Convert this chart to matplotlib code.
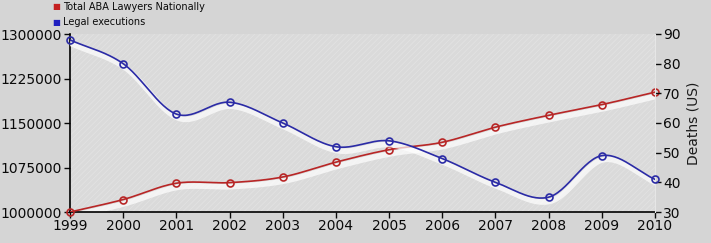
import numpy as np
import matplotlib
matplotlib.use("Agg")
import matplotlib.pyplot as plt
import matplotlib.transforms as mtransforms
from matplotlib.patches import Rectangle

years = [1999, 2000, 2001, 2002, 2003, 2004, 2005, 2006, 2007, 2008, 2009, 2010]
lawyers = [1000000, 1021000, 1048500, 1049500, 1059000, 1084000,
           1105000, 1117500, 1143000, 1163000, 1181000, 1202000]
executions = [88, 80, 63, 67, 60, 52, 54, 48, 40, 35, 49, 41]

left_ticks = [1000000, 1075000, 1150000, 1225000, 1300000]
right_ticks = [30, 40, 50, 60, 70, 80, 90]

red = "#b82626"
blue = "#2b2ba6"


def smooth(x, y, n=30):
    # catmull-rom through the points, just for drawing the curve
    x = np.asarray(x, float)
    y = np.asarray(y, float)
    px = np.concatenate([[2 * x[0] - x[1]], x, [2 * x[-1] - x[-2]]])
    py = np.concatenate([[2 * y[0] - y[1]], y, [2 * y[-1] - y[-2]]])
    xs, ys = [], []
    t = np.linspace(0, 1, n)
    for i in range(1, len(px) - 2):
        for p, out in ((px, xs), (py, ys)):
            p0, p1, p2, p3 = p[i - 1], p[i], p[i + 1], p[i + 2]
            out.append(0.5 * (2 * p1 + (-p0 + p2) * t
                              + (2 * p0 - 5 * p1 + 4 * p2 - p3) * t ** 2
                              + (-p0 + 3 * p1 - 3 * p2 + p3) * t ** 3))
    return np.concatenate(xs), np.concatenate(ys)


plt.rcParams["font.family"] = "DejaVu Sans"
plt.rcParams["hatch.linewidth"] = 0.6

fig = plt.figure(figsize=(7.11, 2.43), dpi=100, facecolor="#d5d5d5")
ax = fig.add_axes([70 / 711, 1 - 212 / 243, 585 / 711, 178 / 243])
ax.set_facecolor("#dadada")
ax.add_patch(Rectangle((0, 0), 1, 1, transform=ax.transAxes, fill=False,
                       hatch="//////", edgecolor="#e2e2e2", linewidth=0, zorder=0))
ax2 = ax.twinx()

shadow = mtransforms.offset_copy(ax.transData, fig=fig, x=2, y=-4, units="dots")
shadow2 = mtransforms.offset_copy(ax2.transData, fig=fig, x=2, y=-4, units="dots")

sx, sy = smooth(years, lawyers)
ax.plot(sx, sy, color="white", lw=4, alpha=0.7, transform=shadow, zorder=1)
ax.plot(sx, sy, color=red, lw=1.2, zorder=3)
ax.plot(years, lawyers, "o", ms=5, mfc="none", mec=red, mew=1.2, zorder=4,
        clip_on=False)

bx, by = smooth(years, executions)
ax2.plot(bx, by, color="white", lw=4, alpha=0.7, transform=shadow2, zorder=1)
ax2.plot(bx, by, color=blue, lw=1.2, zorder=3)
ax2.plot(years, executions, "o", ms=5, mfc="none", mec=blue, mew=1.2, zorder=4,
         clip_on=False)

ax.set_xlim(1999, 2010)
ax.set_ylim(1000000, 1300000)
ax2.set_ylim(30, 90)
ax.set_xticks(years)
ax.set_xticklabels([str(y) for y in years])
ax.set_yticks(left_ticks)
ax.set_yticklabels([str(v) for v in left_ticks])
ax2.set_yticks(right_ticks)

for a in (ax, ax2):
    a.spines["top"].set_visible(False)
    a.tick_params(labelsize=10, length=4, width=1, pad=2, colors="#0a0a0a")
ax.spines["right"].set_visible(False)
ax2.spines["right"].set_color("#e6e6e6")
ax2.spines["left"].set_visible(False)
ax2.spines["bottom"].set_visible(False)
ax.spines["left"].set_linewidth(1.2)
ax.spines["bottom"].set_linewidth(1.2)
ax.tick_params(axis="x", pad=1)

ax2.set_ylabel("Deaths (US)", fontsize=10, color="#1a1a1a", labelpad=4)

fig.text(52 / 711, 1 - 7 / 243, "\u25a0", color="#c42020", fontsize=6, va="center")
fig.text(63 / 711, 1 - 7 / 243, "Total ABA Lawyers Nationally", fontsize=7,
         va="center", color="#0a0a0a")
fig.text(52 / 711, 1 - 22 / 243, "\u25a0", color="#2020c0", fontsize=6, va="center")
fig.text(63 / 711, 1 - 22 / 243, "Legal executions", fontsize=7,
         va="center", color="#0a0a0a")

fig.savefig("out.png", dpi=100, facecolor=fig.get_facecolor())
